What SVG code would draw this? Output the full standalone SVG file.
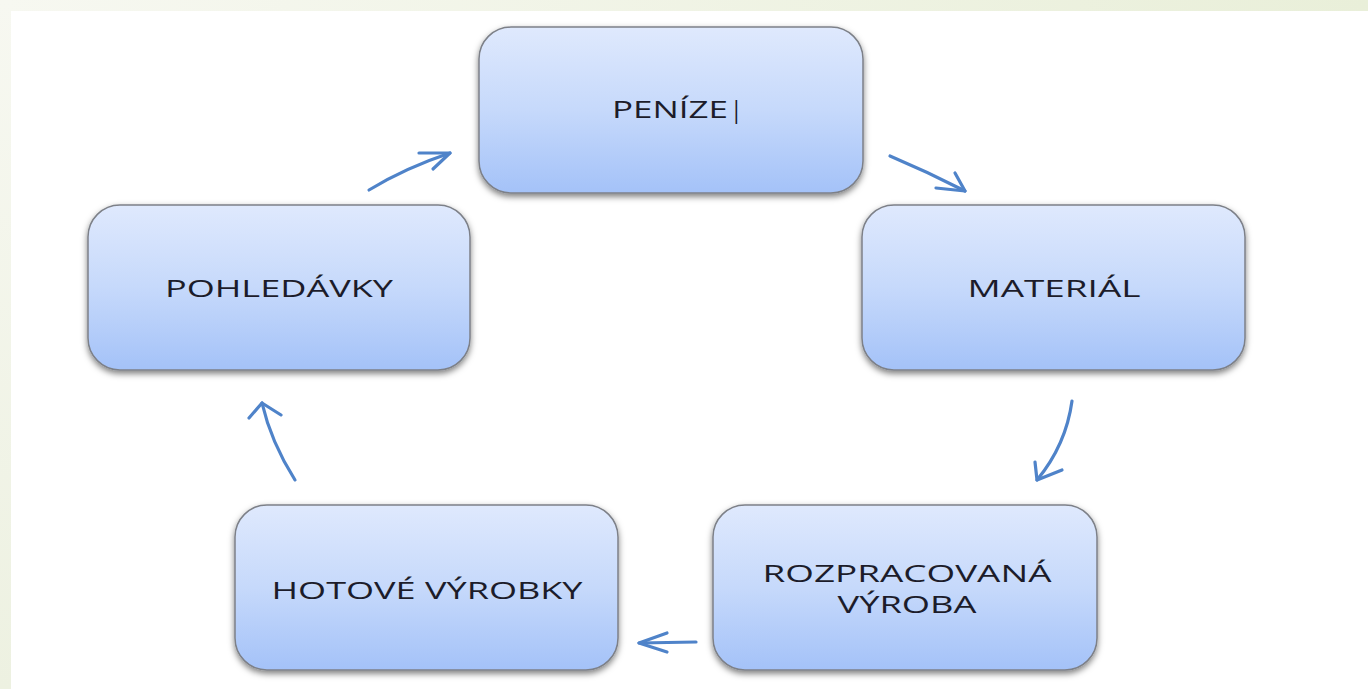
<svg xmlns="http://www.w3.org/2000/svg" width="1368" height="689" viewBox="0 0 1368 689">
<defs>
<linearGradient id="bandTop" x1="0" y1="0" x2="1" y2="0">
<stop offset="0" stop-color="#f7f8f1"/>
<stop offset="1" stop-color="#e9efd9"/>
</linearGradient>
<linearGradient id="bandLeft" x1="0" y1="0" x2="0" y2="1">
<stop offset="0" stop-color="#f7f8f1"/>
<stop offset="1" stop-color="#edf1e1"/>
</linearGradient>
<linearGradient id="boxFill" x1="0" y1="0" x2="0" y2="1">
<stop offset="0" stop-color="#dfe9fd"/>
<stop offset="0.5" stop-color="#c6d9fb"/>
<stop offset="1" stop-color="#a4c2f8"/>
</linearGradient>
<filter id="shadow" x="-10%" y="-10%" width="120%" height="130%">
<feDropShadow dx="0" dy="3" stdDeviation="3" flood-color="#000" flood-opacity="0.5"/>
</filter>
</defs>
<style>
.box{fill:url(#boxFill);stroke:#7d8088;stroke-width:1.5;filter:url(#shadow)}
.lbl{font-family:"Open Sans","Noto Sans","DejaVu Sans",sans-serif;font-size:23px;font-weight:500;fill:#1c1c2a;text-anchor:middle}
.arr{fill:none;stroke:#4f83c9;stroke-width:3.2;stroke-linecap:round;stroke-linejoin:round}
</style>
<rect x="0" y="0" width="1368" height="689" fill="#ffffff"/>
<rect x="0" y="0" width="1368" height="11" fill="url(#bandTop)"/>
<rect x="0" y="0" width="11" height="689" fill="url(#bandLeft)"/>

<g id="node-penize">
<rect class="box" x="479" y="27" width="384" height="166" rx="32" ry="32"/>
<text class="lbl" x="612" y="118" style="text-anchor:start"><tspan textLength="116" lengthAdjust="spacingAndGlyphs">PENÍZE</tspan><tspan x="730" style="font-weight:400">|</tspan></text>
</g>
<g id="node-material">
<rect class="box" x="862" y="205" width="383" height="165" rx="32" ry="32"/>
<text class="lbl" x="1054" y="297" textLength="173" lengthAdjust="spacingAndGlyphs">MATERIÁL</text>
</g>
<g id="node-rozpracovana">
<rect class="box" x="713" y="505" width="384" height="165" rx="32" ry="32"/>
<text class="lbl" x="907" y="582" textLength="289" lengthAdjust="spacingAndGlyphs">ROZPRACOVANÁ</text>
<text class="lbl" x="907" y="613" textLength="139" lengthAdjust="spacingAndGlyphs">VÝROBA</text>
</g>
<g id="node-hotove">
<rect class="box" x="235" y="505" width="383" height="165" rx="32" ry="32"/>
<text class="lbl" x="427" y="599" textLength="311" lengthAdjust="spacingAndGlyphs">HOTOVÉ VÝROBKY</text>
</g>
<g id="node-pohledavky">
<rect class="box" x="88" y="205" width="382" height="165" rx="32" ry="32"/>
<text class="lbl" x="279" y="297" textLength="228" lengthAdjust="spacingAndGlyphs">POHLEDÁVKY</text>
</g>

<g id="connectors">
<path class="arr" d="M369,190 Q405,168 450,153"/>
<path class="arr" d="M419,153 L450,153 L433,169"/>
<path class="arr" d="M890,156 Q928,172 965,191"/>
<path class="arr" d="M955,173 L965,191 L936,188"/>
<path class="arr" d="M1072,401 Q1066,445 1037,480"/>
<path class="arr" d="M1035,462 L1037,480 L1062,470"/>
<path class="arr" d="M696,642 L639,643"/>
<path class="arr" d="M667,633 L639,643 L667,652"/>
<path class="arr" d="M295,480 Q271,442 262,403"/>
<path class="arr" d="M249,418 L262,403 L281,415"/>
</g>
</svg>
